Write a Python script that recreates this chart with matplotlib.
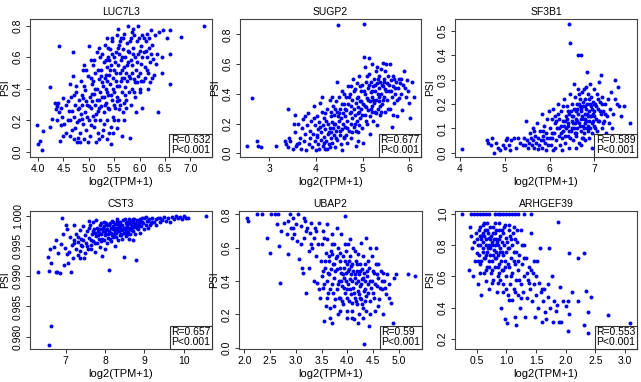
import matplotlib
matplotlib.use("Agg")
import matplotlib.pyplot as plt
from matplotlib.offsetbox import AnchoredText

plt.rcParams['font.family'] = ['Liberation Sans Narrow', 'Liberation Sans', 'DejaVu Sans']

titles = ["LUC7L3", "SUGP2", "SF3B1", "CST3", "UBAP2", "ARHGEF39"]
r_labels = ["R=0.632", "R=0.677", "R=0.589", "R=0.657", "R=0.59", "R=0.553"]
p_label = "P<0.001"
x_label = "log2(TPM+1)"
y_label = "PSI"

luc7l3 = [(3.98,0.17),(4.0,0.05),(4.03,0.07),(4.08,0.01),(4.1,0.13),(4.24,0.41),(4.23,0.16),(4.28,0.21),
(4.33,0.31),(4.35,0.27),(4.37,0.29),(4.40,0.31),(4.42,0.25),(4.41,0.67),(4.43,0.07),(4.45,0.28),(4.47,0.22),(4.5,0.34),
(4.52,0.18),(4.55,0.12),(4.55,0.3),(4.58,0.2),(4.5,0.1),(4.6,0.26),(4.45,0.17),(4.38,0.2),
(4.62,0.43),(4.65,0.35),(4.68,0.63),(4.68,0.48),(4.7,0.22),(4.7,0.08),(4.72,0.3),(4.73,0.15),(4.75,0.38),(4.76,0.06),
(4.78,0.27),(4.8,0.2),(4.8,0.33),(4.82,0.12),(4.84,0.24),(4.85,0.45),(4.87,0.3),(4.88,0.52),(4.88,0.18),(4.9,0.08),
(4.63,0.2),(4.66,0.26),(4.74,0.42),(4.78,0.09),(4.86,0.36),(4.9,0.55),
(4.92,0.25),(4.93,0.39),(4.95,0.14),(4.96,0.3),(4.98,0.48),(5.0,0.67),(5.0,0.2),(5.02,0.35),(5.03,0.1),(5.05,0.28),
(5.06,0.43),(5.08,0.23),(5.08,0.55),(5.1,0.16),(5.1,0.37),(5.12,0.3),(5.13,0.5),(5.15,0.24),(5.16,0.63),(5.17,0.4),
(5.18,0.12),(5.2,0.33),(5.2,0.46),(4.94,0.32),(5.04,0.47),(5.11,0.58),(5.14,0.06),(5.19,0.26),(4.99,0.06),(5.07,0.32),
(5.22,0.2),(5.23,0.38),(5.24,0.52),(5.25,0.29),(5.26,0.62),(5.27,0.44),(5.28,0.14),(5.29,0.35),(5.3,0.57),(5.3,0.25),
(5.31,0.47),(5.32,0.68),(5.33,0.31),(5.34,0.4),(5.35,0.54),(5.35,0.08),(5.36,0.2),(5.37,0.6),(5.38,0.36),(5.39,0.49),
(5.4,0.27),(5.41,0.65),(5.42,0.43),(5.43,0.16),(5.44,0.55),(5.45,0.33),(5.46,0.7),(5.47,0.47),(5.48,0.22),(5.49,0.6),
(5.5,0.38),(5.5,0.52),(5.27,0.1),(5.33,0.58),(5.36,0.45),(5.44,0.05),(5.47,0.12),(5.4,0.58),(5.25,0.48),(5.38,0.66),
(5.52,0.28),(5.53,0.63),(5.54,0.45),(5.55,0.74),(5.56,0.35),(5.57,0.55),(5.58,0.2),(5.59,0.68),(5.6,0.42),(5.61,0.5),
(5.62,0.3),(5.63,0.72),(5.64,0.58),(5.65,0.38),(5.66,0.47),(5.67,0.65),(5.68,0.25),(5.69,0.54),(5.7,0.75),(5.71,0.41),
(5.72,0.6),(5.73,0.33),(5.74,0.5),(5.75,0.69),(5.76,0.45),(5.77,0.57),(5.78,0.8),(5.79,0.38),(5.8,0.63),(5.81,0.09),
(5.55,0.15),(5.6,0.62),(5.65,0.1),(5.7,0.2),(5.58,0.78),(5.74,0.28),
(5.82,0.47),(5.83,0.72),(5.85,0.55),(5.86,0.4),(5.87,0.66),(5.88,0.78),(5.9,0.46),(5.91,0.6),(5.92,0.35),(5.93,0.52),
(5.95,0.7),(5.96,0.44),(5.97,0.62),(5.98,0.8),(6.0,0.5),(6.01,0.38),(6.02,0.67),(6.03,0.56),(6.05,0.74),(6.06,0.45),
(6.08,0.63),(6.1,0.54),(5.84,0.3),(5.94,0.25),(6.04,0.28),(5.99,0.72),
(6.12,0.7),(6.14,0.6),(6.15,0.75),(6.17,0.5),(6.18,0.66),(6.2,0.57),(6.22,0.77),(6.24,0.47),(6.25,0.68),(6.27,0.59),
(6.3,0.74),(6.33,0.56),(6.35,0.62),(6.36,0.25),(6.38,0.76),(6.16,0.4),(6.28,0.49),
(6.45,0.6),(6.47,0.77),(6.55,0.72),(6.6,0.43),(6.6,0.62),(6.61,0.77),(6.82,0.73),(7.27,0.8),(6.44,0.5)]
luc7l3_dense = [(4.58,0.32),(4.62,0.1),(4.67,0.14),(4.71,0.36),(4.77,0.19),(4.81,0.28),(4.83,0.06),(4.86,0.21),(4.89,0.34),
(4.91,0.42),(4.97,0.22),(5.01,0.29),(5.04,0.17),(5.06,0.37),(5.09,0.45),(5.13,0.2),(5.16,0.33),(5.18,0.52),(5.21,0.28),
(5.23,0.6),(5.26,0.35),(5.28,0.42),(5.31,0.3),(5.33,0.49),(5.36,0.38),(5.38,0.28),(5.41,0.52),(5.43,0.36),(5.45,0.62),
(5.47,0.4),(5.49,0.3),(5.51,0.57),(5.53,0.5),(5.55,0.42),(5.57,0.66),(5.59,0.33),(5.61,0.7),(5.63,0.45),(5.66,0.52),
(5.68,0.72),(5.7,0.47),(5.72,0.36),(5.75,0.55),(5.77,0.64),(5.79,0.48),(5.81,0.7),(5.83,0.58),(5.86,0.5),(5.88,0.62),
(5.9,0.74),(5.92,0.44),(5.95,0.57),(5.97,0.48),(6.0,0.64),(6.02,0.45),(6.05,0.6),(6.08,0.72),(6.1,0.47),(6.13,0.64),
(6.18,0.72),(6.23,0.62),(5.3,0.18),(5.4,0.12),(5.5,0.2),(5.2,0.08),(5.12,0.4),(5.6,0.27),(5.65,0.6),(5.85,0.76),
(5.45,0.72),(5.35,0.72),(5.2,0.66),(5.05,0.58),(4.95,0.52),(5.55,0.32),(5.7,0.31),(5.9,0.38),(6.0,0.4),(6.15,0.52),(6.2,0.44)]

sugp2 = [(2.51,0.05),(2.62,0.37),(2.73,0.08),(2.76,0.05),(2.81,0.04),(3.14,0.05),(3.33,0.08),(3.39,0.3),(3.36,0.06),
(3.4,0.04),(3.42,0.1),(3.45,0.08),(3.52,0.2),(3.54,0.26),(3.5,0.03),(3.6,0.06),(4.47,0.86),(5.02,0.87),
(3.55,0.14),(3.58,0.05),(3.62,0.2),(3.65,0.1),(3.68,0.03),(3.7,0.17),(3.72,0.23),(3.74,0.08),(3.76,0.13),(3.78,0.02),
(3.8,0.19),(3.82,0.27),(3.84,0.06),(3.86,0.15),(3.88,0.1),(3.9,0.22),(3.63,0.07),(3.77,0.25),
(3.92,0.04),(3.94,0.13),(3.95,0.32),(3.97,0.08),(3.98,0.19),(4.0,0.02),(4.01,0.25),(4.02,0.11),(4.04,0.16),(4.05,0.06),
(4.07,0.21),(4.08,0.34),(4.1,0.09),(4.11,0.14),(4.12,0.28),(4.14,0.05),(4.15,0.19),(4.16,0.11),(4.18,0.24),(4.19,0.03),
(4.2,0.16),(4.22,0.08),(4.23,0.3),(4.25,0.13),(4.26,0.2),(4.28,0.06),(4.29,0.36),(4.3,0.17),(3.96,0.24),(4.06,0.03),
(4.13,0.38),(4.24,0.03),
(4.31,0.1),(4.32,0.25),(4.33,0.14),(4.34,0.21),(4.35,0.07),(4.36,0.32),(4.37,0.17),(4.38,0.12),(4.39,0.26),(4.4,0.04),
(4.41,0.2),(4.42,0.35),(4.43,0.15),(4.44,0.48),(4.45,0.09),(4.46,0.28),(4.48,0.18),(4.49,0.22),(4.5,0.38),
(4.51,0.12),(4.52,0.3),(4.53,0.06),(4.54,0.24),(4.55,0.16),(4.56,0.42),(4.57,0.27),(4.58,0.2),(4.6,0.33),(4.61,0.11),
(4.62,0.25),(4.63,0.18),(4.64,0.38),(4.65,0.29),(4.66,0.07),(4.67,0.22),(4.68,0.45),(4.69,0.33),(4.7,0.15),
(4.72,0.27),(4.73,0.4),(4.74,0.2),(4.75,0.32),(4.76,0.1),(4.77,0.36),(4.78,0.24),(4.8,0.5),(4.81,0.3),(4.82,0.18),
(4.83,0.43),(4.84,0.26),(4.85,0.34),(4.86,0.05),(4.87,0.22),(4.88,0.47),(4.89,0.31),(4.9,0.38),(4.91,0.14),(4.92,0.28),
(4.93,0.52),(4.94,0.35),(4.95,0.24),(4.96,0.42),(4.97,0.3),(4.98,0.17),(4.99,0.46),(5.0,0.33),(5.01,0.07),
(5.03,0.65),(5.04,0.26),(5.05,0.4),(5.06,0.58),(5.07,0.31),(5.08,0.48),(5.09,0.2),(5.1,0.37),
(5.11,0.44),(5.12,0.29),(5.13,0.53),(5.14,0.64),(5.15,0.35),(5.16,0.25),(5.17,0.41),(5.18,0.48),(5.19,0.32),(5.2,0.6),
(5.21,0.38),(5.22,0.22),(5.23,0.45),(5.24,0.34),(5.25,0.5),(5.26,0.28),(5.27,0.42),(5.28,0.55),(5.29,0.36),(5.3,0.47),
(5.31,0.19),(5.32,0.4),(5.33,0.3),(5.34,0.52),(5.35,0.44),(5.36,0.35),(5.37,0.26),(5.38,0.48),(5.39,0.4),(5.4,0.57),
(5.42,0.33),(5.43,0.45),(5.44,0.61),(5.45,0.38),(5.46,0.5),(5.47,0.28),(5.48,0.43),(5.5,0.6),
(5.52,0.47),(5.53,0.36),(5.55,0.52),(5.56,0.42),(5.58,0.3),(5.6,0.49),(5.62,0.38),(5.63,0.18),(5.65,0.45),(5.67,0.5),
(5.68,0.34),(5.7,0.4),(5.72,0.48),(5.74,0.25),(5.75,0.44),(5.78,0.37),(5.8,0.47),(5.83,0.4),(5.85,0.29),(5.88,0.55),
(5.9,0.44),(5.93,0.38),(5.95,0.49),(6.0,0.34),(6.02,0.24),(6.05,0.48),(6.1,0.38),(5.59,0.6),(5.66,0.26),(5.82,0.5)]
sugp2_dense = [(4.03,0.12),(4.09,0.18),(4.17,0.07),(4.21,0.22),(4.27,0.14),(4.33,0.28),(4.38,0.2),(4.43,0.1),(4.47,0.25),
(4.52,0.15),(4.55,0.33),(4.59,0.1),(4.63,0.3),(4.67,0.17),(4.71,0.38),(4.74,0.28),(4.78,0.14),(4.81,0.42),(4.84,0.2),
(4.87,0.37),(4.9,0.27),(4.93,0.19),(4.96,0.35),(4.99,0.26),(5.02,0.42),(5.05,0.32),(5.08,0.22),(5.11,0.36),(5.14,0.46),
(5.17,0.3),(5.2,0.42),(5.23,0.36),(5.26,0.46),(5.29,0.27),(5.32,0.5),(5.35,0.38),(5.38,0.32),(5.41,0.46),(5.44,0.36),
(5.47,0.55),(5.5,0.42),(5.54,0.3),(5.57,0.46),(5.61,0.42),(5.64,0.52),(5.69,0.44),(5.73,0.36),(5.77,0.5),(5.87,0.46),
(5.97,0.42),(4.2,0.27),(4.35,0.38),(4.6,0.4),(4.75,0.45),(4.5,0.27),(4.4,0.3),(4.95,0.45),(5.1,0.52),(5.3,0.58),
(5.45,0.48),(5.2,0.28),(5.4,0.28),(4.85,0.15),(4.65,0.12),(4.3,0.04),(4.55,0.02),(4.9,0.08),(5.15,0.13)]

sf3b1 = [(4.04,0.015),(6.43,0.53),(6.46,0.45),(6.63,0.40),(6.69,0.40),(6.84,0.33),(7.8,0.12),(7.65,0.19),
(4.6,0.05),(4.62,0.04),(4.7,0.03),(4.76,0.0),(4.8,0.04),(4.85,0.02),(4.9,0.01),(4.95,0.03),(5.0,0.02),(5.02,0.05),
(5.05,0.06),(5.1,0.03),(5.15,0.05),(5.2,0.06),(5.25,0.02),(5.3,0.06),(5.35,0.04),(5.4,0.03),(4.72,0.06),(5.12,0.01),
(5.42,0.06),(5.45,0.03),(5.47,0.13),(5.5,0.05),(5.52,0.02),(5.55,0.04),(5.57,0.08),(5.6,0.03),(5.62,0.1),(5.64,0.05),
(5.66,0.02),(5.68,0.07),(5.7,0.04),(5.72,0.12),(5.74,0.06),(5.76,0.03),(5.78,0.09),(5.8,0.05),(5.82,0.16),(5.84,0.02),
(5.86,0.07),(5.88,0.11),(5.9,0.04),(5.92,0.08),(5.94,0.14),(5.96,0.03),(5.98,0.17),(6.0,0.06),(5.58,0.06),(5.66,0.09),
(5.75,0.015),(5.85,0.05),(5.93,0.01),
(6.02,0.1),(6.03,0.03),(6.05,0.14),(6.06,0.06),(6.08,0.18),(6.1,0.08),(6.11,0.02),(6.13,0.12),(6.15,0.05),(6.16,0.1),
(6.18,0.2),(6.2,0.07),(6.21,0.14),(6.23,0.03),(6.25,0.11),(6.26,0.17),(6.28,0.06),(6.3,0.13),(6.31,0.09),(6.33,0.22),
(6.34,0.04),(6.36,0.15),(6.37,0.1),(6.39,0.19),(6.4,0.07),(6.42,0.12),(6.43,0.02),(6.44,0.16),(6.46,0.24),(6.47,0.09),
(6.49,0.13),(6.5,0.2),(6.07,0.01),(6.19,0.16),(6.27,0.01),(6.35,0.07),(6.41,0.17),(6.45,0.06),(6.29,0.19),(6.12,0.15),
(6.51,0.1),(6.52,0.15),(6.53,0.05),(6.55,0.18),(6.56,0.12),(6.57,0.23),(6.58,0.08),(6.6,0.14),(6.61,0.2),(6.62,0.1),
(6.63,0.26),(6.64,0.16),(6.65,0.04),(6.66,0.12),(6.67,0.19),(6.68,0.22),(6.69,0.09),(6.7,0.14),(6.71,0.17),(6.72,0.06),
(6.73,0.25),(6.74,0.11),(6.75,0.19),(6.76,0.14),(6.77,0.08),(6.78,0.22),(6.79,0.16),(6.8,0.12),(6.81,0.27),(6.82,0.18),
(6.83,0.1),(6.84,0.2),(6.85,0.15),(6.86,0.24),(6.87,0.06),(6.88,0.17),(6.89,0.13),(6.9,0.2),(6.91,0.1),(6.92,0.23),
(6.93,0.15),(6.94,0.18),(6.95,0.08),(6.96,0.21),(6.97,0.13),(6.98,0.26),(6.99,0.17),(7.0,0.11),(6.54,0.28),(6.59,0.02),
(6.7,0.03),(6.8,0.05),(6.9,0.28),(6.95,0.02),
(7.02,0.2),(7.03,0.14),(7.05,0.24),(7.06,0.09),(7.08,0.18),(7.1,0.29),(7.11,0.13),(7.13,0.21),(7.14,0.32),(7.15,0.16),
(7.17,0.1),(7.18,0.23),(7.2,0.17),(7.22,0.13),(7.24,0.2),(7.26,0.08),(7.28,0.15),(7.3,0.22),(7.33,0.12),(7.35,0.18),
(7.38,0.25),(7.4,0.1),(7.42,0.16),(7.45,0.3),(7.47,0.22),(7.5,0.2),(7.12,0.05),(7.36,0.06),
(7.55,0.19),(7.6,0.15),(7.52,0.27)]
sf3b1_dense = [(6.32,0.11),(6.38,0.14),(6.44,0.09),(6.48,0.17),(6.52,0.12),(6.56,0.08),(6.59,0.17),(6.62,0.13),(6.65,0.2),
(6.67,0.11),(6.7,0.18),(6.72,0.15),(6.74,0.21),(6.76,0.1),(6.78,0.14),(6.8,0.19),(6.82,0.13),(6.84,0.16),(6.86,0.11),
(6.88,0.22),(6.9,0.15),(6.92,0.19),(6.94,0.12),(6.96,0.16),(6.98,0.2),(7.0,0.15),(7.02,0.1),(7.04,0.19),(7.07,0.13),
(7.09,0.22),(7.12,0.17),(7.16,0.2),(7.19,0.12),(7.23,0.16),(6.6,0.07),(6.4,0.11),(6.25,0.08),(6.15,0.13),(6.2,0.1),
(6.05,0.08),(5.95,0.06),(5.85,0.09),(6.55,0.1),(6.75,0.06),(6.85,0.09),(6.66,0.24),(6.77,0.26),(6.62,0.18),(6.5,0.15),(6.35,0.13)]

cst3 = [(6.55,0.9932),(6.58,0.9909),(6.6,0.9945),(6.63,0.9922),(6.7,0.9948),(6.75,0.9960),(6.78,0.9907),(6.8,0.9938),
(6.85,0.9906),(6.88,0.9953),(6.9,0.9997),(6.92,0.9970),(6.95,0.9918),(6.97,0.9946),(7.0,0.9985),(7.02,0.9978),
(7.03,0.9937),(7.05,0.9922),(7.08,0.9940),(7.1,0.9965),(7.13,0.9907),(7.15,0.9952),(7.18,0.9930),(7.2,0.9985),
(7.22,0.9960),(7.25,0.9945),(7.27,0.9970),(7.3,0.9935),(7.32,0.9957),(7.35,0.9977),(7.37,0.9942),(7.4,0.9962),
(7.42,0.9950),(7.45,0.9983),(7.47,0.9930),(7.5,0.9968),(7.52,0.9955),(7.55,0.9975),(7.57,0.9945),(7.6,0.9963),
(7.62,0.9985),(7.64,0.9952),(7.66,0.9970),(7.68,0.9990),(7.7,0.9958),(7.72,0.9978),(7.74,0.9940),(7.76,0.9967),
(7.78,0.9993),(7.8,0.9955),(7.82,0.9975),(7.84,0.9962),(7.86,0.9985),(7.88,0.9948),(7.9,0.9970),(7.92,0.9933),
(7.94,0.9980),(7.96,0.9960),(7.98,0.9990),(8.0,0.9968),(8.02,0.9976),(8.04,0.9955),(8.06,0.9985),(8.08,0.9970),
(8.1,0.9911),(8.12,0.9962),(8.14,0.9980),(8.16,0.9972),(8.18,0.9992),(8.2,0.9965),(8.22,0.9978),(8.24,0.9950),
(8.26,0.9986),(8.28,0.9972),(8.3,0.9980),(8.32,0.9960),(8.34,0.9990),(8.36,0.9975),(8.38,0.9968),(8.4,0.9985),
(8.42,0.9977),(8.44,0.9962),(8.46,0.9993),(8.48,0.9980),(8.49,0.9932),(8.5,0.9972),(8.52,0.9988),(8.54,0.9966),
(8.56,0.9982),(8.58,0.9975),(8.6,0.9995),(8.62,0.9980),(8.64,0.9970),(8.66,0.9987),(8.68,0.9976),(8.7,0.9960),
(8.72,0.9990),(8.74,0.9982),(8.76,0.9970),(8.78,0.9926),(8.8,0.9985),(8.82,0.9993),(8.84,0.9978),(8.86,0.9988),
(8.88,0.9972),(8.9,0.9995),(8.92,0.9983),(8.95,0.9990),(8.98,0.9978),(9.0,0.9997),(9.03,0.9985),(9.06,0.9992),
(9.1,0.9980),(9.13,0.9995),(9.16,0.9988),(9.2,0.9997),(9.25,0.9990),(9.3,0.9984),(9.35,0.9996),(9.4,0.9990),
(9.45,0.9993),(9.5,0.9998),(9.55,0.9992),(9.6,0.9996),(9.65,0.9990),(9.7,0.9998),(9.75,0.9995),(9.8,0.9999),
(9.85,0.9996),(9.9,0.9998),(9.95,0.9994),(10.0,0.9999),(10.05,0.9997),(10.1,0.9996),(10.56,1.0),(6.58,0.9787),
(6.62,0.9818),(6.29,0.9907),(6.75,0.9907),(7.6,0.9980),(7.9,0.9988),(8.1,0.9985),(8.3,0.9992),(8.0,0.9945),
(8.2,0.9983),(8.4,0.9970),(8.6,0.9962),(7.7,0.9975),(7.8,0.9980),(8.15,0.9958),(8.35,0.9985),(8.55,0.9990),
(8.45,0.9978),(8.25,0.9975),(8.05,0.9978),(7.85,0.9972),(7.65,0.9960),(7.95,0.9975),(8.65,0.9980),(8.75,0.9985)]
cst3_dense = [(7.75,0.9972),(7.83,0.9968),(7.87,0.9978),(7.93,0.9962),(7.97,0.9983),(8.01,0.9972),(8.03,0.9988),(8.07,0.9963),
(8.11,0.9975),(8.13,0.9988),(8.17,0.9968),(8.19,0.9978),(8.21,0.9990),(8.23,0.9970),(8.27,0.9980),(8.29,0.9965),
(8.31,0.9986),(8.33,0.9975),(8.37,0.9980),(8.39,0.9990),(8.41,0.9968),(8.43,0.9984),(8.47,0.9972),(8.51,0.9980),
(8.53,0.9976),(8.57,0.9985),(8.59,0.9970),(8.61,0.9988),(8.63,0.9978),(8.67,0.9992),(8.69,0.9983),(8.71,0.9975),
(8.73,0.9994),(8.77,0.9988),(8.81,0.9980),(8.85,0.9992),(8.87,0.9983),(8.91,0.9990),(8.93,0.9996),(8.97,0.9988),
(7.45,0.9960),(7.55,0.9950),(7.65,0.9945),(7.75,0.9955),(7.9,0.9958),(7.4,0.9952),(7.3,0.9965),(7.2,0.9955),
(7.5,0.9938),(7.35,0.9930),(8.7,0.9995),(8.5,0.9995),(8.3,0.9995),(9.1,0.9992),(9.2,0.9990),(9.05,0.9998),
(9.3,0.9995),(9.4,0.9997),(9.15,0.9985),(7.58,0.9992)]

ubap2 = [(2.05,0.78),(2.08,0.76),(2.25,0.8),(2.35,0.8),(2.45,0.66),(2.5,0.57),(2.52,0.8),(2.6,0.8),(2.63,0.74),
(2.65,0.8),(2.68,0.61),(2.69,0.39),(2.72,0.7),(2.78,0.75),(2.82,0.68),(2.85,0.56),(2.88,0.8),(2.9,0.72),(2.92,0.66),
(2.95,0.78),(2.97,0.68),(3.0,0.74),(3.02,0.64),(3.05,0.8),(3.07,0.53),(3.1,0.73),(3.12,0.48),(3.13,0.45),(3.15,0.66),
(3.18,0.76),(3.2,0.33),(3.22,0.72),(3.25,0.58),(3.27,0.69),(3.3,0.75),(3.32,0.6),(3.35,0.66),(3.37,0.72),(3.4,0.55),
(3.42,0.39),(3.44,0.62),(3.46,0.3),(3.48,0.52),(3.5,0.43),(3.52,0.7),(3.53,0.36),(3.55,0.16),(3.56,0.48),(3.58,0.57),
(3.6,0.4),(3.61,0.65),(3.62,0.33),(3.64,0.52),(3.65,0.44),(3.67,0.24),(3.68,0.58),(3.7,0.38),(3.71,0.15),(3.72,0.5),
(3.74,0.62),(3.75,0.42),(3.76,0.29),(3.78,0.54),(3.79,0.35),(3.8,0.47),(3.81,0.2),(3.82,0.6),(3.84,0.4),(3.85,0.52),
(3.86,0.3),(3.87,0.45),(3.88,0.68),(3.9,0.37),(3.91,0.55),(3.92,0.26),(3.93,0.48),(3.94,0.42),(3.95,0.33),(3.96,0.79),
(3.97,0.58),(3.98,0.45),(3.99,0.18),(4.0,0.5),(4.01,0.38),(4.02,0.62),(4.03,0.28),(4.04,0.47),(4.05,0.41),(4.06,0.55),
(4.07,0.32),(4.08,0.44),(4.09,0.22),(4.1,0.5),(4.11,0.36),(4.12,0.6),(4.13,0.17),(4.14,0.42),(4.15,0.3),(4.16,0.52),
(4.17,0.39),(4.18,0.46),(4.19,0.26),(4.2,0.56),(4.21,0.34),(4.22,0.44),(4.23,0.2),(4.24,0.5),(4.25,0.37),(4.26,0.63),
(4.27,0.29),(4.28,0.47),(4.29,0.41),(4.3,0.55),(4.31,0.24),(4.32,0.45),(4.33,0.024),(4.34,0.35),(4.35,0.5),(4.36,0.66),
(4.37,0.31),(4.38,0.43),(4.4,0.38),(4.42,0.13),(4.43,0.48),(4.45,0.28),(4.47,0.55),(4.48,0.4),(4.5,0.33),(4.52,0.45),
(4.53,0.22),(4.55,0.5),(4.57,0.37),(4.6,0.42),(4.62,0.29),(4.65,0.46),(4.68,0.35),(4.7,0.2),(4.72,0.4),(4.75,0.32),
(4.78,0.44),(4.8,0.38),(4.85,0.27),(4.88,0.15),(4.9,0.42),(4.94,0.44),(5.17,0.44),(5.31,0.43),(3.6,0.74),(3.7,0.68),
(3.8,0.72),(3.5,0.62),(3.65,0.55),(3.85,0.57),(3.95,0.62),(4.05,0.65),(4.15,0.58),(4.45,0.6),(4.55,0.6),(4.25,0.3),
(3.75,0.5),(3.9,0.28),(4.1,0.27),(4.0,0.35),(3.45,0.35),(3.58,0.25),(3.66,0.18),(4.6,0.5),(4.7,0.45),(4.4,0.52),
(4.2,0.15),(4.3,0.18)]
ubap2_dense = [(3.52,0.46),(3.55,0.38),(3.57,0.52),(3.6,0.3),(3.63,0.45),(3.66,0.35),(3.69,0.47),(3.71,0.56),(3.73,0.33),
(3.77,0.46),(3.79,0.55),(3.82,0.38),(3.84,0.3),(3.86,0.48),(3.88,0.4),(3.91,0.44),(3.93,0.36),(3.95,0.52),(3.97,0.4),
(3.99,0.3),(4.01,0.46),(4.03,0.52),(4.05,0.35),(4.07,0.49),(4.09,0.4),(4.11,0.46),(4.13,0.33),(4.15,0.44),(4.17,0.28),
(4.19,0.5),(4.21,0.4),(4.23,0.32),(4.25,0.46),(4.27,0.38),(4.29,0.26),(4.31,0.42),(4.33,0.34),(4.35,0.4),(4.37,0.22),
(4.39,0.46),(4.41,0.33),(4.44,0.4),(4.46,0.36),(4.49,0.46),(4.51,0.3),(4.54,0.38),(4.58,0.44),(4.63,0.36),(4.67,0.4),
(4.73,0.36),(3.4,0.7),(3.3,0.62),(3.2,0.7),(3.1,0.62),(2.95,0.72),(2.85,0.76),(3.15,0.78),(3.45,0.75),(3.55,0.66),
(3.7,0.62),(3.25,0.48),(3.35,0.4),(3.75,0.25),(3.85,0.22),(4.0,0.22),(4.1,0.18),(4.35,0.28),(4.45,0.2),(4.6,0.25),(4.8,0.3)]

arhgef39 = [(0.26,1.0),(0.4,1.0),(0.45,1.0),(0.5,1.0),(0.55,1.0),(0.6,1.0),(0.65,1.0),(0.7,1.0),(0.8,1.0),(0.85,1.0),
(0.9,1.0),(0.95,1.0),(1.0,1.0),(1.05,1.0),(1.1,1.0),(1.15,1.0),(1.2,1.0),(1.3,1.0),(1.42,1.0),
(1.87,0.95),(2.06,0.75),(2.2,0.72),(2.3,0.75),(2.71,0.35),(3.08,0.30),(2.54,0.22),(2.38,0.24),(2.31,0.29),(2.03,0.25),
(2.34,0.51),(2.38,0.37),(3.0,0.2),
(0.37,0.64),(0.38,0.92),(0.4,0.86),(0.42,0.78),(0.44,0.6),(0.45,0.82),(0.47,0.7),(0.48,0.88),(0.5,0.75),(0.52,0.55),
(0.53,0.9),(0.55,0.8),(0.56,0.68),(0.57,0.84),(0.58,0.48),(0.6,0.76),(0.6,0.93),(0.62,0.62),(0.63,0.86),(0.64,0.72),
(0.65,0.8),(0.66,0.57),(0.67,0.9),(0.68,0.66),(0.69,0.78),(0.7,0.85),(0.71,0.52),(0.72,0.74),(0.73,0.92),(0.74,0.62),
(0.75,0.82),(0.76,0.7),(0.77,0.88),(0.78,0.58),(0.79,0.77),(0.8,0.94),(0.81,0.66),(0.82,0.84),(0.83,0.72),(0.84,0.5),
(0.85,0.8),(0.86,0.6),(0.87,0.9),(0.88,0.68),(0.89,0.76),(0.9,0.86),(0.91,0.4),(0.92,0.64),(0.93,0.82),(0.94,0.55),
(0.95,0.74),(0.96,0.92),(0.97,0.33),(0.98,0.7),(0.99,0.85),(1.0,0.6),(1.01,0.3),(1.02,0.78),(1.03,0.48),(1.04,0.9),
(1.05,0.66),(1.06,0.55),(1.07,0.84),(1.08,0.72),(1.09,0.45),(1.1,0.62),(1.11,0.88),(1.12,0.52),(1.13,0.76),(1.14,0.34),
(1.15,0.68),(1.16,0.29),(1.17,0.58),(1.18,0.82),(1.19,0.48),(1.2,0.64),(1.22,0.74),(1.23,0.4),(1.24,0.9),(1.25,0.55),
(1.27,0.68),(1.28,0.5),(1.29,0.8),(1.3,0.6),(1.32,0.34),(1.33,0.72),(1.35,0.46),(1.36,0.58),(1.38,0.66),(1.4,0.52),
(1.41,0.88),(1.43,0.44),(1.45,0.62),(1.47,0.55),(1.48,0.34),(1.5,0.48),(1.52,0.7),(1.53,0.4),(1.55,0.56),(1.57,0.78),
(1.58,0.5),(1.6,0.31),(1.62,0.44),(1.63,0.52),(1.65,0.37),(1.67,0.33),(1.7,0.47),(1.72,0.78),(1.74,0.4),(1.77,0.6),
(1.78,0.31),(1.8,0.44),(1.83,0.38),(1.86,0.42),(1.88,0.31),(1.9,0.53),(1.92,0.31),(1.95,0.44),(2.0,0.41),(2.03,0.44),
(2.05,0.36),(2.1,0.5),(2.2,0.44),(2.42,0.47),(0.55,0.92),(0.58,0.86),(0.62,0.94),(0.68,0.94),(0.72,0.84),(0.78,0.92),
(0.83,0.9),(0.88,0.94),(0.92,0.9),(0.98,0.93),(1.05,0.93),(1.12,0.92),(1.18,0.9),(0.7,0.7),(0.75,0.64),(0.8,0.72),
(0.85,0.66),(0.9,0.58),(0.95,0.64),(1.0,0.52),(0.65,0.74),(0.6,0.82),(0.52,0.7),(0.5,0.84)]
arhgef39_dense = [(0.52,0.8),(0.54,0.74),(0.56,0.86),(0.58,0.7),(0.6,0.88),(0.61,0.78),(0.63,0.72),(0.64,0.9),(0.66,0.84),
(0.67,0.76),(0.69,0.88),(0.7,0.8),(0.71,0.66),(0.73,0.78),(0.74,0.86),(0.76,0.8),(0.77,0.74),(0.79,0.84),(0.8,0.8),
(0.81,0.88),(0.82,0.76),(0.84,0.82),(0.86,0.74),(0.87,0.84),(0.88,0.62),(0.9,0.78),(0.91,0.7),(0.93,0.76),(0.94,0.88),
(0.96,0.8),(0.97,0.66),(0.99,0.76),(1.01,0.82),(1.02,0.68),(1.04,0.78),(1.06,0.86),(1.08,0.6),(1.1,0.8),(1.12,0.7),
(1.14,0.84),(1.16,0.76),(1.2,0.7),(1.22,0.58),(1.26,0.8),(1.3,0.72),(1.34,0.62),(1.38,0.56),(1.42,0.64),(1.46,0.7),
(1.5,0.6),(0.95,0.5),(1.05,0.45),(1.15,0.5),(1.25,0.46),(0.85,0.56),(0.75,0.56),(0.66,0.64),(0.56,0.62),(1.6,0.52),(1.7,0.55)]

datasets = [luc7l3 + luc7l3_dense, sugp2 + sugp2_dense, sf3b1 + sf3b1_dense,
            cst3 + cst3_dense, ubap2 + ubap2_dense, arhgef39 + arhgef39_dense]

# axes boxes in pixels: left, right, top, bottom
W, H = 641, 382
boxes = [(30, 212, 19, 157), (240, 421, 19, 157), (455, 637, 19, 157),
         (30, 212, 211, 349), (239, 422, 211, 349), (455, 637, 211, 349)]
xlims = [(3.84, 7.43), (2.37, 6.25), (3.89, 7.95), (6.09, 10.72), (1.897, 5.45), (0.134, 3.2)]
ylims = [(-0.032, 0.842), (-0.025, 0.903), (-0.018, 0.549), (0.97797, 1.00078), (-0.008, 0.82), (0.135, 1.02)]
xticks = [[4.0, 4.5, 5.0, 5.5, 6.0, 6.5, 7.0], [3, 4, 5, 6], [4, 5, 6, 7], [7, 8, 9, 10],
          [2.0, 2.5, 3.0, 3.5, 4.0, 4.5, 5.0], [0.5, 1.0, 1.5, 2.0, 2.5, 3.0]]
xfmt = ["{:.1f}", "{:.0f}", "{:.0f}", "{:.0f}", "{:.1f}", "{:.1f}"]
yticks = [[0.0, 0.2, 0.4, 0.6, 0.8], [0.0, 0.2, 0.4, 0.6, 0.8], [0.0, 0.1, 0.2, 0.3, 0.4, 0.5],
          [0.980, 0.985, 0.990, 0.995, 1.000], [0.0, 0.2, 0.4, 0.6, 0.8], [0.2, 0.4, 0.6, 0.8, 1.0]]
yfmt = ["{:.1f}", "{:.1f}", "{:.1f}", "{:.3f}", "{:.1f}", "{:.1f}"]

fig = plt.figure(figsize=(W / 100, H / 100), dpi=100)
fs = 7.5
for i in range(6):
    l, r, t, b = boxes[i]
    ax = fig.add_axes([l / W, 1 - b / H, (r - l) / W, (b - t) / H])
    xs = [p[0] for p in datasets[i]]
    ys = [p[1] for p in datasets[i]]
    ax.scatter(xs, ys, s=8, color='#0000f0', linewidths=0, zorder=2)
    ax.set_xlim(*xlims[i])
    ax.set_ylim(*ylims[i])
    ax.set_xticks(xticks[i])
    ax.set_xticklabels([xfmt[i].format(v) for v in xticks[i]], fontsize=fs)
    ax.set_yticks(yticks[i])
    ax.set_yticklabels([yfmt[i].format(v) for v in yticks[i]], fontsize=fs, rotation=90, va='center')
    ax.tick_params(direction='out', length=3, width=0.7, pad=2, color='#333333')
    for s in ax.spines.values():
        s.set_linewidth(0.8)
        s.set_color('#444444')
    ax.set_title(titles[i], fontsize=fs, pad=3)
    ax.set_xlabel(x_label, fontsize=fs + 0.5, labelpad=2)
    ax.set_ylabel(y_label, fontsize=fs, labelpad=2)
    at = AnchoredText(r_labels[i] + "\n" + p_label, loc='lower right', borderpad=0, pad=0.15,
                      prop=dict(fontsize=fs, linespacing=1.0), frameon=True)
    at.patch.set_edgecolor('#333333')
    at.patch.set_linewidth(0.8)
    at.patch.set_boxstyle('square,pad=0')
    at.zorder = 3
    ax.add_artist(at)

fig.savefig("out.png", dpi=100)
